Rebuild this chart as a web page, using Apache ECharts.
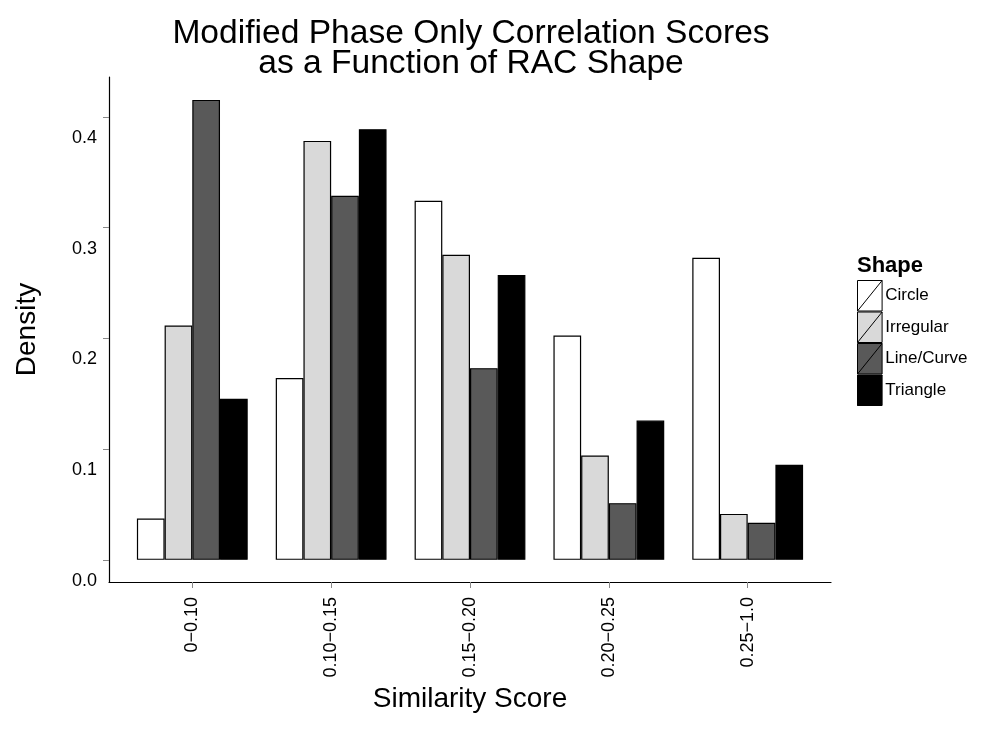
<!DOCTYPE html>
<html><head><meta charset="utf-8">
<script src="https://cdn.jsdelivr.net/npm/echarts@6/dist/echarts.min.js"></script>
<style>html,body{margin:0;padding:0;background:#fff}#c{width:984px;height:744px}</style>
</head><body><div id="c"></div>
<script>
const categories = ['0\u22120.10', '0.10\u22120.15', '0.15\u22120.20', '0.20\u22120.25', '0.25\u22121.0'];
const shapes = ['Circle', 'Irregular', 'Line/Curve', 'Triangle'];
const circle = [0.0373, 0.1641, 0.3242, 0.2026, 0.2727];
const irregular = [0.2116, 0.3783, 0.2754, 0.0942, 0.0415];
const lineCurve = [0.4153, 0.3287, 0.1731, 0.0512, 0.0334];
const triangle = [0.1454, 0.3889, 0.2571, 0.1258, 0.0858];
const yTicks = [0, 0.1, 0.2, 0.3, 0.4];

const colors = ['#FFFFFF', '#D9D9D9', '#595959', '#000000'];
const FONT = "'Liberation Sans', Arial, sans-serif";
const catPos = categories.map((c, i) => i + 1);
const seriesVals = [circle, irregular, lineCurve, triangle];

const chart = echarts.init(document.getElementById('c'), null, {renderer: 'canvas'});
const keyIcon = 'path://M0,0L25,0L25,31L0,31Z M0,31L25,0';

const option = {
  backgroundColor: '#ffffff',
  animation: false,
  textStyle: {fontFamily: FONT},
  title: [
    {
      text: 'Modified Phase Only Correlation Scores\nas a Function of RAC Shape',
      left: 471, top: 19, textAlign: 'center', padding: 0,
      textStyle: {fontFamily: FONT, fontSize: 33.6, fontWeight: 'normal', color: '#000', lineHeight: 30}
    },
    {
      text: 'Shape', left: 857, top: 255, padding: 0,
      textStyle: {fontFamily: FONT, fontSize: 22, fontWeight: 'bold', color: '#000'}
    }
  ],
  legend: {
    orient: 'vertical', left: 857, top: 280, itemGap: 0, padding: 0,
    itemWidth: 25, itemHeight: 30.5,
    icon: keyIcon,
    data: shapes,
    itemStyle: {borderColor: '#000', borderWidth: 1},
    textStyle: {fontFamily: FONT, fontSize: 17, color: '#000', padding: [0, 0, 0, -2]}
  },
  grid: {left: 109, right: 153, top: 77, bottom: 162, containLabel: false, outerBoundsMode: 'none'},
  xAxis: {
    type: 'value', min: 0.4, max: 5.6,
    name: 'Similarity Score', nameLocation: 'middle', nameGap: 101,
    nameTextStyle: {fontFamily: FONT, fontSize: 28, color: '#000'},
    axisLine: {show: true, onZero: false, lineStyle: {color: '#000', width: 1.2}},
    axisTick: {show: true, length: 6, customValues: catPos, lineStyle: {color: '#888'}},
    axisLabel: {
      customValues: catPos, rotate: 90, margin: 15,
      fontFamily: FONT, fontSize: 18, color: '#000',
      formatter: v => categories[Math.round(v) - 1]
    },
    splitLine: {show: false}
  },
  yAxis: {
    type: 'value', min: -0.02, max: 0.436,
    name: 'Density', nameLocation: 'middle', nameGap: 68,
    nameTextStyle: {fontFamily: FONT, fontSize: 28, color: '#000'},
    axisLine: {show: true, onZero: false, lineStyle: {color: '#000', width: 1.2}},
    axisTick: {show: true, length: 6, customValues: yTicks, lineStyle: {color: '#888'}},
    axisLabel: {
      customValues: yTicks, margin: 12,
      fontFamily: FONT, fontSize: 18, color: '#000',
      verticalAlign: 'top', padding: [12, 0, 0, 0],
      formatter: v => v.toFixed(1)
    },
    splitLine: {show: false}
  },
  series: shapes.map((s, k) => ({
    name: s, type: 'bar',
    barWidth: 27.7, barGap: '0%',
    itemStyle: {color: colors[k], borderColor: '#000', borderWidth: 1.2},
    data: catPos.map((x, i) => [x, seriesVals[k][i]])
  }))
};
chart.setOption(option);
</script></body></html>
